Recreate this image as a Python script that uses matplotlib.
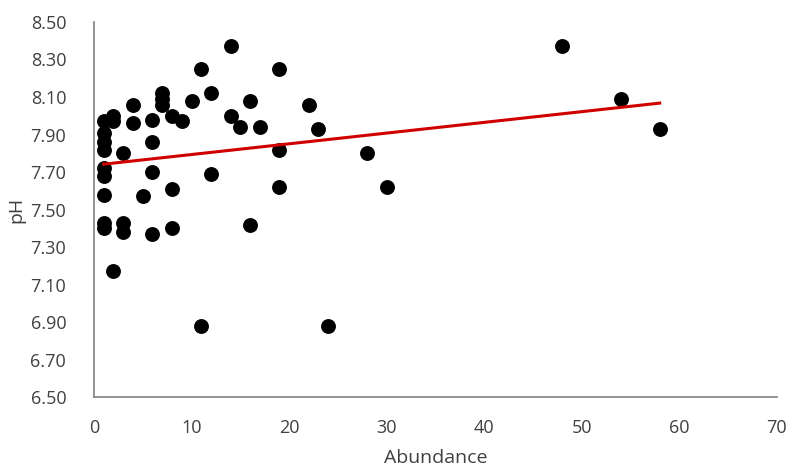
import matplotlib
matplotlib.use("Agg")
import matplotlib.pyplot as plt
from matplotlib.ticker import FormatStrFormatter
import numpy as np

# values
abundance = [1, 1, 1, 1, 1, 1, 1, 1, 1,
             2, 2, 2,
             3, 3, 3,
             4, 4,
             5,
             6, 6, 6, 6,
             7, 7, 7,
             8, 8, 8,
             9, 10,
             11, 11,
             12, 12,
             14, 14,
             15,
             16, 16,
             17,
             19, 19, 19,
             22, 23, 24, 28, 30, 48, 54, 58]
ph = [7.97, 7.91, 7.86, 7.82, 7.72, 7.68, 7.58, 7.43, 7.40,
      8.00, 7.97, 7.17,
      7.80, 7.43, 7.38,
      8.06, 7.96,
      7.57,
      7.98, 7.86, 7.70, 7.37,
      8.12, 8.09, 8.06,
      8.00, 7.61, 7.40,
      7.97, 8.08,
      8.25, 6.88,
      8.12, 7.69,
      8.37, 8.00,
      7.94,
      8.08, 7.42,
      7.94,
      8.25, 7.82, 7.62,
      8.06, 7.93, 6.88, 7.80, 7.62, 8.37, 8.09, 7.93]

x = np.array(abundance, dtype=float)
y = np.array(ph)

plt.rcParams['font.family'] = ['Open Sans', 'DejaVu Sans']

fig = plt.figure(figsize=(7.91, 4.66), dpi=100)
ax = fig.add_axes([0.1188, 0.148, 0.8632, 0.8048])

ax.scatter(x, y, s=115, color='black', zorder=3, linewidths=0)

# linear trend line
slope, intercept = np.polyfit(x, y, 1)
xl = np.array([x.min(), x.max()])
ax.plot(xl, slope * xl + intercept, color='#d00000', lw=2.2, zorder=4)

ax.set_xlim(0, 70)
ax.set_ylim(6.5, 8.5)
ax.set_xticks(np.arange(0, 71, 10))
ax.set_yticks(np.arange(6.5, 8.51, 0.2))
ax.yaxis.set_major_formatter(FormatStrFormatter('%.2f'))

for side in ['top', 'right']:
    ax.spines[side].set_visible(False)
for side in ['left', 'bottom']:
    ax.spines[side].set_color('#808080')
    ax.spines[side].set_linewidth(1.2)

ax.tick_params(axis='y', length=0, labelsize=13, labelcolor='#404040', pad=20)
ax.tick_params(axis='x', length=0, labelsize=13, labelcolor='#404040', pad=16)
ax.set_xlabel('Abundance', fontsize=14, color='#404040', va='center')
ax.set_ylabel('pH', fontsize=14, color='#404040', va='center')
ax.xaxis.set_label_coords(0.5, -0.163)
ax.yaxis.set_label_coords(-0.113, 0.5)

fig.savefig('out.png', dpi=100)
